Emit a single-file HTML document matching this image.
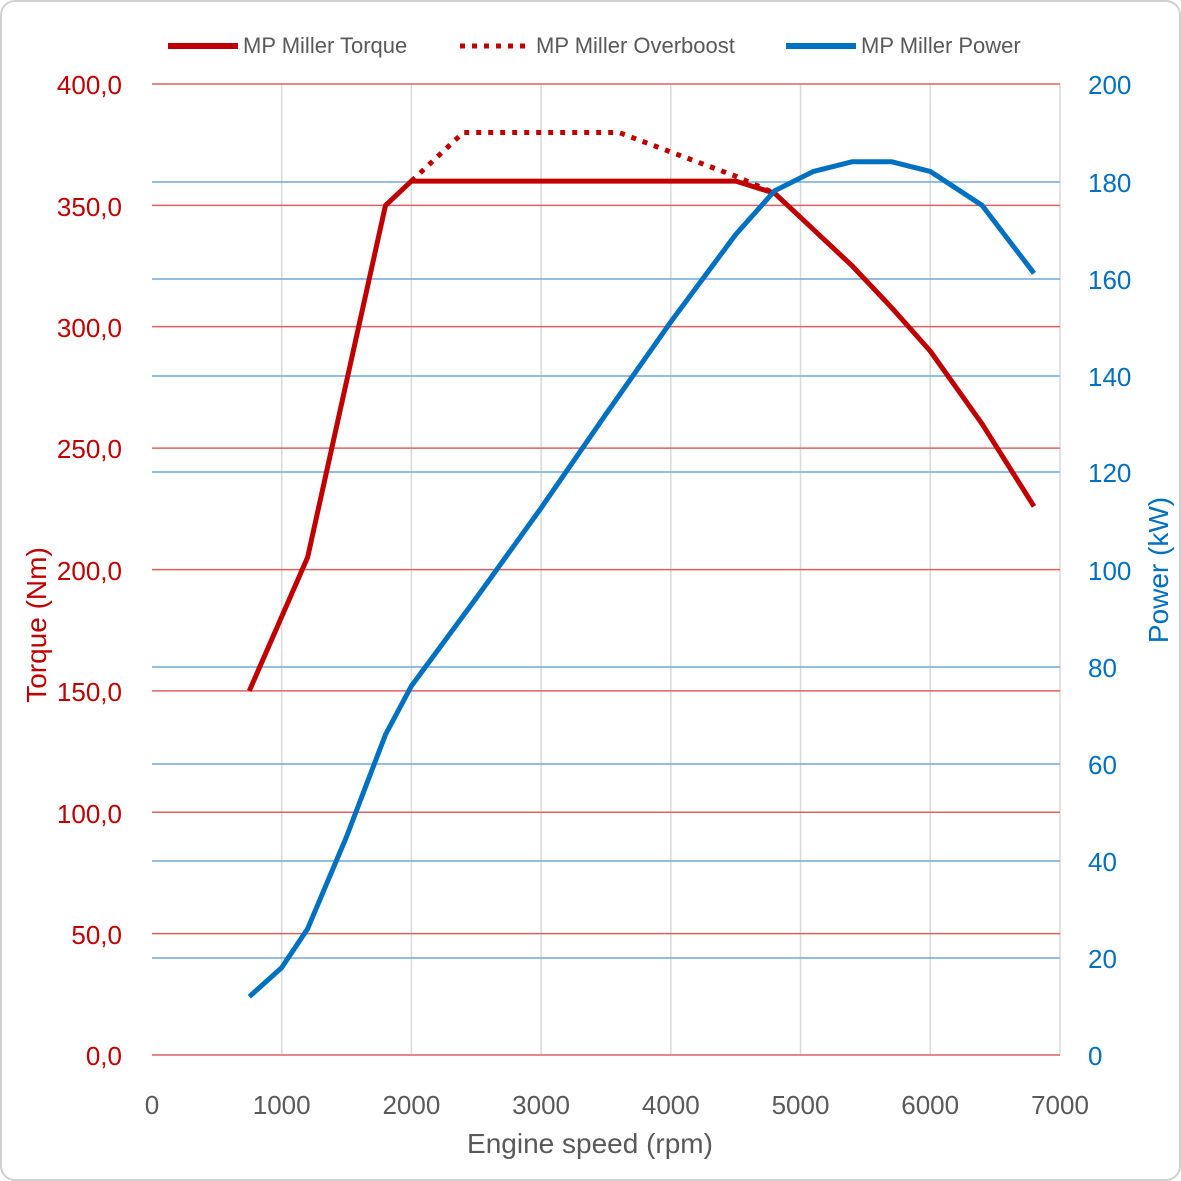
<!DOCTYPE html>
<html><head><style>body{margin:0;background:#fff}svg{display:block}</style></head><body>
<svg width="1181" height="1181" xmlns="http://www.w3.org/2000/svg" font-family="Liberation Sans, sans-serif">
<rect x="1" y="1" width="1179" height="1179" rx="14" fill="#fff" stroke="#d0d0d0" stroke-width="2"/>
<g stroke="#d9d9d9" stroke-width="1.5">
<line x1="281.7" y1="84" x2="281.7" y2="1055"/><line x1="411.4" y1="84" x2="411.4" y2="1055"/><line x1="541.1" y1="84" x2="541.1" y2="1055"/><line x1="670.8" y1="84" x2="670.8" y2="1055"/><line x1="800.5" y1="84" x2="800.5" y2="1055"/><line x1="930.2" y1="84" x2="930.2" y2="1055"/><line x1="1060" y1="84" x2="1060" y2="1055"/>
</g>
<g stroke="#6fa8dc" stroke-width="1.5">
<line x1="152" x2="1060" y1="958" y2="958"/><line x1="152" x2="1060" y1="861" y2="861"/><line x1="152" x2="1060" y1="764" y2="764"/><line x1="152" x2="1060" y1="667" y2="667"/><line x1="152" x2="1060" y1="472" y2="472"/><line x1="152" x2="1060" y1="376" y2="376"/><line x1="152" x2="1060" y1="279" y2="279"/><line x1="152" x2="1060" y1="182" y2="182"/>
</g>
<g stroke="#e06060" stroke-width="1.5">
<line x1="152" x2="1060" y1="1055" y2="1055"/><line x1="152" x2="1060" y1="933.6" y2="933.6"/><line x1="152" x2="1060" y1="812.3" y2="812.3"/><line x1="152" x2="1060" y1="690.9" y2="690.9"/><line x1="152" x2="1060" y1="569.6" y2="569.6"/><line x1="152" x2="1060" y1="448.1" y2="448.1"/><line x1="152" x2="1060" y1="326.6" y2="326.6"/><line x1="152" x2="1060" y1="205.4" y2="205.4"/><line x1="152" x2="1060" y1="84" y2="84"/>
</g>
<polyline fill="none" stroke="#c00000" stroke-width="5" stroke-dasharray="5,7" points="411.4,181.1 463.3,132.5 618.9,132.5 670.8,152 735.7,176.2 774.6,193.2"/>
<polyline fill="none" stroke="#c00000" stroke-width="5" stroke-linejoin="round" points="249.3,690.9 307.6,557.4 385.5,205.4 411.4,181.1 735.7,181.1 774.6,193.2 813.5,229.6 852.4,266.1 891.3,307.3 930.2,351 982.1,423.9 1034,506.4"/>
<polyline fill="none" stroke="#0070c0" stroke-width="5" stroke-linejoin="round" points="249.3,996.7 281.7,967.6 307.6,928.8 346.6,836.5 385.5,734.6 411.4,686 476.3,598 541.1,508 606,414.1 670.8,321.9 735.7,234.5 774.6,190.8 813.5,171.4 852.4,161.7 891.3,161.7 930.2,171.4 982.1,205.4 1034,273.3"/>
<g font-size="26" fill="#c00000" text-anchor="end">
<text x="122" y="1065">0,0</text><text x="122" y="944">50,0</text><text x="122" y="823">100,0</text><text x="122" y="701">150,0</text><text x="122" y="580">200,0</text><text x="122" y="458">250,0</text><text x="122" y="337">300,0</text><text x="122" y="216">350,0</text><text x="122" y="94">400,0</text>
</g>
<g font-size="26" fill="#0070c0">
<text x="1088" y="1065">0</text><text x="1088" y="968">20</text><text x="1088" y="871">40</text><text x="1088" y="774">60</text><text x="1088" y="677">80</text><text x="1088" y="580">100</text><text x="1088" y="482">120</text><text x="1088" y="386">140</text><text x="1088" y="289">160</text><text x="1088" y="192">180</text><text x="1088" y="94">200</text>
</g>
<g font-size="26" fill="#595959" text-anchor="middle">
<text x="152" y="1114">0</text><text x="281.7" y="1114">1000</text><text x="411.4" y="1114">2000</text><text x="541.1" y="1114">3000</text><text x="670.8" y="1114">4000</text><text x="800.5" y="1114">5000</text><text x="930.2" y="1114">6000</text><text x="1060" y="1114">7000</text>
<text x="590" y="1153" font-size="28">Engine speed (rpm)</text>
</g>
<text transform="translate(46,625) rotate(-90)" font-size="28" fill="#c00000" text-anchor="middle">Torque (Nm)</text>
<text transform="translate(1168,570) rotate(-90)" font-size="28" fill="#0070c0" text-anchor="middle">Power (kW)</text>
<g font-size="22" fill="#595959">
<line x1="168" y1="46" x2="238" y2="46" stroke="#c00000" stroke-width="6"/>
<text x="243" y="53">MP Miller Torque</text>
<line x1="460" y1="46" x2="530" y2="46" stroke="#c00000" stroke-width="5" stroke-dasharray="5,7"/>
<text x="536" y="53">MP Miller Overboost</text>
<line x1="786" y1="46" x2="856" y2="46" stroke="#0070c0" stroke-width="6"/>
<text x="861" y="53">MP Miller Power</text>
</g>
</svg>
</body></html>
